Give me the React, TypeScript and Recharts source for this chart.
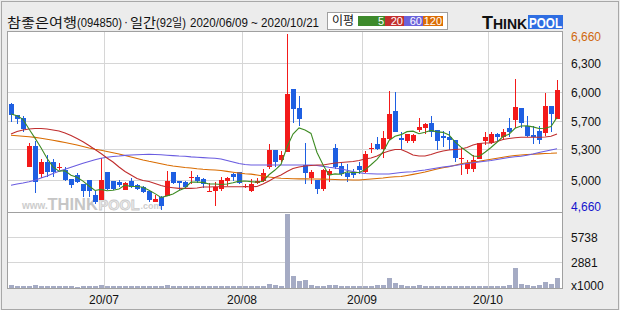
import React from 'react';
import { ComposedChart, Bar, Line, XAxis, YAxis, CartesianGrid, ReferenceLine } from 'recharts';

// ---------- categories (trading days) ----------
const juneDays = [9, 10, 11, 12, 15, 16, 17, 18, 19, 22, 23, 24, 25, 26, 29, 30];
const julyDays = [1, 2, 3, 6, 7, 8, 9, 10, 13, 14, 15, 16, 17, 20, 21, 22, 23, 24, 27, 28, 29, 30, 31];
const augustDays = [3, 4, 5, 6, 7, 10, 11, 12, 13, 14, 18, 19, 20, 21, 24, 25, 26, 27, 28, 31];
const septemberDays = [1, 2, 3, 4, 7, 8, 9, 10, 11, 14, 15, 16, 17, 18, 21, 22, 23, 24, 25, 28, 29];
const octoberDays = [5, 6, 7, 8, 12, 13, 14, 15, 16, 19, 20, 21];

const pad2 = (n: number) => (n < 10 ? '0' + n : String(n));
const tradingDates: string[] = [
  ...juneDays.map((d) => `2020-06-${pad2(d)}`),
  ...julyDays.map((d) => `2020-07-${pad2(d)}`),
  ...augustDays.map((d) => `2020-08-${pad2(d)}`),
  ...septemberDays.map((d) => `2020-09-${pad2(d)}`),
  ...octoberDays.map((d) => `2020-10-${pad2(d)}`),
];

// ---------- series ----------
const opens = [5870,5740,5700,5150,5390,5070,5210,5210,5150,5110, 5010,5060,4960,5000,4830,4770,5090,4990,4980,4890, 4990,4940,4920,4880,4750,4810,4820,5090,4990,4980, 5030,5040,5010,4880,4880,4900,4990,5070,5090,4930, 4870,4970,4990,5150,5340,5230,5320,6030,5820,5170, 5020,5000,4900,5060,5370,5160,5080,5080,5160,5090, 5360,5410,5350,5470,5780,5480,5440,5440,5570,5590, 5650,5570,5500,5490,5460,5250,5120,5130,5240,5440, 5420,5520,5490,5590,5680,5820,5610,5510,5560,5530, 5840,5690];
const highs = [5880,5740,5730,5420,5440,5240,5280,5240,5190,5150, 5010,5080,4960,5000,4870,5250,5090,4990,5000,4980, 5020,4950,4930,4880,4830,4820,5100,5090,4990,4990, 5100,5060,5020,4970,4980,5030,5030,5080,5090,4960, 5010,5020,5120,5410,5340,5330,6660,6040,5950,5420, 5110,5000,5120,5130,5410,5190,5180,5130,5200,5330, 5420,5490,5560,6010,6000,5550,5520,5520,5710,5650, 5730,5570,5560,5560,5460,5360,5230,5280,5420,5550, 5550,5540,5580,5710,6150,5820,5730,5610,5610,5990, 5840,6140];
const lows = [5660,5640,5550,5150,4850,5020,5040,5040,5110,4990, 4910,4970,4810,4810,4730,4770,4890,4890,4920,4890, 4910,4890,4850,4750,4750,4660,4820,4960,4890,4910, 4950,4970,4910,4870,4710,4880,4930,4990,4960,4910, 4860,4960,4980,5120,5150,5210,5320,5650,5610,4960, 4960,4840,4870,4980,5120,5050,4980,5020,5070,5080, 5310,5340,5250,5460,5550,5340,5420,5420,5550,5520, 5490,5340,5380,5340,5200,5060,5070,5090,5240,5400, 5410,5440,5460,5490,5590,5590,5490,5410,5410,5500, 5550,5690];
const closes = [5740,5690,5580,5390,4980,5200,5090,5090,5150,5000, 4940,4980,4870,4870,4750,5000,4900,4900,4940,4970, 4920,4900,4860,4770,4780,4700,4990,4970,4970,4920, 5030,4990,4960,4880,4920,5000,5020,5030,4970,4930, 4960,4990,5080,5340,5200,5280,5980,5810,5690,5080, 5090,4900,5110,5100,5150,5070,5040,5060,5110,5300, 5360,5350,5480,5750,5550,5450,5520,5510,5600,5640, 5550,5440,5480,5450,5250,5250,5190,5230,5420,5490, 5520,5490,5550,5550,5830,5650,5500,5490,5460,5840, 5750,6020];

const ma5 = [5750,5730,5690,5580,5476,5368,5248,5150,5102,5106, 5054,5032,4988,4932,4882,4894,4878,4884,4898,4942, 4926,4926,4918,4884,4846,4802,4820,4842,4882,4910, 4976,4976,4974,4956,4956,4950,4956,4970,4988,4990, 4982,4976,4986,5060,5114,5178,5376,5522,5592,5568, 5530,5314,5174,5056,5070,5066,5094,5084,5086,5116, 5174,5236,5320,5448,5498,5516,5550,5556,5526,5544, 5564,5548,5542,5512,5434,5374,5324,5274,5268,5316, 5370,5430,5494,5520,5588,5614,5616,5604,5586,5588, 5608,5712];
const ma20 = [5523,5552,5569,5580,5586,5586,5580,5569,5557,5535, 5506,5472,5436,5393,5347,5302,5251,5205,5148,5097, 5057,5018,4995,4984,4961,4938,4921,4913,4906,4906, 4906,4910,4921,4921,4924,4924,4924,4924,4924,4924, 4924,4927,4955,4989,5029,5057,5097,5131,5148,5160, 5165,5171,5171,5182,5194,5199,5205,5211,5222,5239, 5251,5273,5307,5330,5347,5347,5319,5285,5273,5273, 5290,5313,5330,5342,5347,5353,5370,5398,5415,5421, 5421,5438,5461,5472,5481,5486,5486,5486,5486,5489, 5497,5523];
const ma60 = [4941,4955,4966,4980,4997,5023,5046,5074,5099,5123, 5145,5168,5190,5211,5230,5248,5260,5268,5273,5281, 5285,5288,5290,5293,5290,5287,5282,5278,5273,5270, 5264,5260,5255,5251,5247,5239,5222,5205,5188,5177, 5171,5171,5171,5171,5171,5171,5171,5171,5171,5171, 5171,5165,5156,5145,5137,5126,5111,5097,5084,5074, 5071,5069,5069,5069,5077,5086,5092,5095,5105,5114, 5126,5137,5148,5156,5165,5177,5188,5196,5205,5213, 5222,5234,5245,5256,5265,5271,5281,5296,5313,5328, 5342,5355];
const ma120 = [5509,5503,5497,5492,5485,5476,5464,5453,5440,5427, 5413,5398,5381,5364,5350,5338,5325,5310,5296,5279, 5262,5245,5228,5213,5200,5185,5171,5160,5151,5143, 5137,5128,5122,5118,5114,5109,5099,5089,5080,5072, 5067,5057,5046,5035,5026,5020,5018,5015,5014,5013, 5012,5012,5011,5009,5006,5004,5003,5001,5001,5006, 5012,5018,5023,5032,5037,5040,5052,5065,5078,5092, 5109,5126,5139,5151,5168,5185,5196,5205,5213,5225, 5236,5247,5259,5270,5279,5285,5290,5294,5298,5302, 5304,5308];

// volume, x1000 shares
const volumes = [340,200,220,250,330,210,180,190,200,170, 190,160,180,200,210,330,200,180,170,190, 180,170,180,190,170,230,320,200,180,190, 180,170,190,200,260,200,180,190,200,180, 190,180,200,460,380,200,8380,1350,790,900, 330,250,220,330,320,240,200,190,200,210, 250,330,340,1140,560,320,240,210,300,220, 200,190,210,200,220,190,200,210,220,200, 190,200,210,320,2270,450,330,250,330,700, 450,1160];

// ---------- axes / labels ----------
const monthStarts = ['2020-07-01', '2020-08-03', '2020-09-01', '2020-10-05'];
const monthLabels = ['20/07', '20/08', '20/09', '20/10'];
const priceDomain: [number, number] = [4637, 6694];
const priceAxisTicks = [6660, 6327, 5997, 5671, 5342, 4997, 4660];
const priceAxisLabels = ['6,660', '6,300', '6,000', '5,700', '5,300', '5,000', '4,660'];
const priceGridValues = [6327, 5997, 5671, 5342, 4997];
const volumeDomain: [number, number] = [0, 8607];
const volumeAxisTicks = [5738, 2881, 0];
const volumeAxisLabels = ['5738', '2881', 'x1000'];
const volumeGridValues = [5738, 2881];
const maNames = ['5', '20', '60', '120'];

const titleParts = ['참좋은여행', '(094850)', '·', '일간', '(92일)', '2020/06/09 ~ 2020/10/21'];

// ---------- styles ----------
const UP = '#f31a1a';
const DOWN = '#1e5fe2';
const VOL = '#a5abc4';
const GRID = '#d6d6d6';
const FRAME = '#a0a0a0';
const MA_COLORS = ['#3f8c24', '#c02e2e', '#6a5ce0', '#d96c00'];
const LEGEND_COLORS = ['#3e8a2c', '#c3302e', '#6b63da', '#db6d05'];
const LATIN = "'Liberation Sans', Arial, 'Noto Sans CJK KR', sans-serif";
const KOREAN = "'Noto Sans CJK KR', 'Liberation Sans', sans-serif";

const rows = tradingDates.map((date, i) => ({
  date,
  open: opens[i],
  high: highs[i],
  low: lows[i],
  close: closes[i],
  range: [lows[i], highs[i]],
  ma5: ma5[i],
  ma20: ma20[i],
  ma60: ma60[i],
  ma120: ma120[i],
  volume: volumes[i],
}));

function Candle(props: any) {
  const { x, y, width, height, payload } = props;
  if (!payload || !isFinite(y) || !isFinite(height)) return null;
  const { open, close, high, low } = payload;
  const k = height / (high - low);
  const toY = (v: number) => y + (high - v) * k;
  const color = close >= open ? UP : DOWN;
  const left = Math.floor(x + 0.5 + 1e-6);
  const w = Math.round(width);
  const wick = left + Math.floor(w / 2);
  const hi = Math.round(toY(high));
  const lo = Math.round(toY(low));
  const top = Math.round(toY(Math.max(open, close)));
  const bot = Math.round(toY(Math.min(open, close)));
  return (
    <g>
      <rect x={wick} y={hi} width={1} height={Math.max(1, lo - hi)} fill={color} />
      <rect x={left} y={top} width={w} height={Math.max(1, bot - top)} fill={color} />
    </g>
  );
}

function VolumeBar(props: any) {
  const { x, y, width, height } = props;
  if (!isFinite(y) || !isFinite(height)) return null;
  const left = Math.floor(x + 0.5 + 1e-6);
  const top = Math.round(y);
  const bottom = Math.round(y + height);
  return <rect x={left} y={top} width={Math.round(width)} height={Math.max(1, bottom - top)} fill={VOL} />;
}

function PriceTick(props: any) {
  const { y, payload } = props;
  const i = priceAxisTicks.indexOf(payload.value);
  if (i < 0) return null;
  const last = priceAxisTicks.length - 1;
  const dy = i === 0 ? 3 : i === last ? -3 : 0.5;
  const fill = i === 0 ? '#d0680c' : i === last ? '#1414cc' : '#111';
  return (
    <text x={571} y={y + dy} fontSize={12} fill={fill} fontFamily={LATIN} dominantBaseline="central">
      {priceAxisLabels[i]}
    </text>
  );
}

function VolumeTick(props: any) {
  const { y, payload } = props;
  const i = volumeAxisTicks.indexOf(payload.value);
  if (i < 0) return null;
  const dy = i === 2 ? -2 : 0.5;
  return (
    <text x={571} y={y + dy} fontSize={12} fill="#111" fontFamily={LATIN} dominantBaseline="central">
      {volumeAxisLabels[i]}
    </text>
  );
}

function Header() {
  const boxX = [358, 385, 404, 423];
  const boxW = [27, 19, 19, 20];
  return (
    <svg width={620} height={44} style={{ position: 'absolute', left: 0, top: 0 }}>
      <text x={7} y={27} fontSize={13} fontFamily={KOREAN} fill="#111" textLength={70} lengthAdjust="spacingAndGlyphs">{titleParts[0]}</text>
      <text x={77} y={27} fontSize={12} fontFamily={LATIN} fill="#111" textLength={45} lengthAdjust="spacingAndGlyphs">{titleParts[1]}</text>
      <text x={126} y={26} fontSize={12} fontFamily={LATIN} fill="#111" textAnchor="middle">{titleParts[2]}</text>
      <text x={130} y={27} fontSize={13} fontFamily={KOREAN} fill="#111" textLength={26} lengthAdjust="spacingAndGlyphs">{titleParts[3]}</text>
      <text x={156} y={27} fontSize={12} fontFamily={LATIN} fill="#111" textLength={30} lengthAdjust="spacingAndGlyphs">{titleParts[4]}</text>
      <text x={190} y={27} fontSize={12} fontFamily={LATIN} fill="#111" textLength={129} lengthAdjust="spacingAndGlyphs">{titleParts[5]}</text>

      <rect x={327.5} y={12.5} width={120} height={17} fill="#fff" stroke="#a0a0a0" />
      <text x={332} y={25} fontSize={12} fontFamily={KOREAN} fill="#111">이평</text>
      {maNames.map((name, i) => (
        <g key={name}>
          <rect x={boxX[i]} y={16} width={boxW[i]} height={10} fill={LEGEND_COLORS[i]} />
          <text x={boxX[i] + boxW[i] - 1} y={25.2} fontSize={11} fontFamily={LATIN} fill="#fff" textAnchor="end">{name}</text>
        </g>
      ))}

      <text x={482} y={29} fontWeight="bold" fontFamily={LATIN} fill="#111">
        <tspan fontSize={18}>T</tspan>
        <tspan fontSize={14}>HINK</tspan>
      </text>
      <rect x={528} y={15} width={35} height={14} fill="#2f6ee2" />
      <text x={529} y={28} fontSize={15} fontWeight="bold" fontFamily={LATIN} fill="#fff" textLength={33} lengthAdjust="spacingAndGlyphs">POOL</text>
    </svg>
  );
}

function Watermark() {
  return (
    <svg width={620} height={310} style={{ position: 'absolute', left: 0, top: 0 }}>
      <text x={22} y={208.5} fontSize={10} fontWeight="bold" fontFamily={LATIN} fill="#cdcdcd">www.</text>
      <text x={47.5} y={209.5} fontSize={16.5} fontWeight="bold" fontFamily={LATIN} fill="#c6c6c6">THINK</text>
      <text x={98.5} y={209.5} fontSize={14.5} fontWeight="bold" fontFamily={LATIN} fill="#ececec" stroke="#cbcbcb" strokeWidth={0.8}>POOL</text>
      <text x={140.5} y={208.5} fontSize={9} fontWeight="bold" fontFamily={LATIN} fill="#cdcdcd">.com</text>
    </svg>
  );
}

export default function App() {
  const maKeys = ['ma120', 'ma60', 'ma20', 'ma5'];
  const maColorFor: Record<string, string> = { ma5: MA_COLORS[0], ma20: MA_COLORS[1], ma60: MA_COLORS[2], ma120: MA_COLORS[3] };
  return (
    <div style={{ position: 'relative', width: 620, height: 310, background: '#ececec', overflow: 'hidden' }}>
      <style>{'body{margin:0;}'}</style>
      <div style={{ position: 'absolute', left: 1, top: 1, width: 618, height: 309, border: '1px solid #a8a8a8', boxSizing: 'border-box' }} />
      <div style={{ position: 'absolute', left: 7, top: 31, width: 556, height: 258, background: '#fff' }} />
      <Watermark />
      <Header />

      <div style={{ position: 'absolute', left: 0, top: 0 }}>
        <ComposedChart width={620} height={213} data={rows} margin={{ top: 31, right: 0, bottom: 1, left: 7 }}>
          <CartesianGrid stroke={GRID} vertical={false} horizontalValues={priceGridValues} shapeRendering="crispEdges" />
          <XAxis dataKey="date" type="category" hide padding={{ left: 1, right: 2 }} />
          <YAxis
            orientation="right"
            width={58}
            type="number"
            domain={priceDomain}
            allowDataOverflow
            ticks={priceAxisTicks}
            interval={0}
            axisLine={false}
            tickLine={false}
            tick={PriceTick}
          />
          {monthStarts.map((d) => (
            <ReferenceLine key={d} x={d} position="start" stroke={GRID} shapeRendering="crispEdges" />
          ))}
          <Bar dataKey="range" barSize={5} shape={Candle} isAnimationActive={false} />
          {maKeys.map((k) => (
            <Line key={k} dataKey={k} type="linear" stroke={maColorFor[k]} strokeWidth={1.1} dot={false} activeDot={false} isAnimationActive={false} />
          ))}
        </ComposedChart>
      </div>

      <div style={{ position: 'absolute', left: 0, top: 212 }}>
        <ComposedChart width={620} height={98} data={rows} margin={{ top: 0, right: 0, bottom: 22, left: 7 }}>
          <CartesianGrid stroke={GRID} vertical={false} horizontalValues={volumeGridValues} shapeRendering="crispEdges" />
          <XAxis dataKey="date" type="category" hide padding={{ left: 1, right: 2 }} />
          <YAxis
            orientation="right"
            width={58}
            type="number"
            domain={volumeDomain}
            allowDataOverflow
            ticks={volumeAxisTicks}
            interval={0}
            axisLine={false}
            tickLine={false}
            tick={VolumeTick}
          />
          {monthStarts.map((d, i) => (
            <ReferenceLine
              key={d}
              x={d}
              position="start"
              stroke={GRID}
              shapeRendering="crispEdges"
              label={{ value: monthLabels[i], position: 'bottom', offset: 7, fill: '#111', fontSize: 12, fontFamily: LATIN }}
            />
          ))}
          <Bar dataKey="volume" barSize={5} shape={VolumeBar} isAnimationActive={false} />
        </ComposedChart>
      </div>

      <div style={{ position: 'absolute', left: 7, top: 31, width: 556, height: 258, border: `1px solid ${FRAME}`, boxSizing: 'border-box', pointerEvents: 'none' }} />
      <div style={{ position: 'absolute', left: 7, top: 212, width: 556, height: 1, background: FRAME }} />
    </div>
  );
}
